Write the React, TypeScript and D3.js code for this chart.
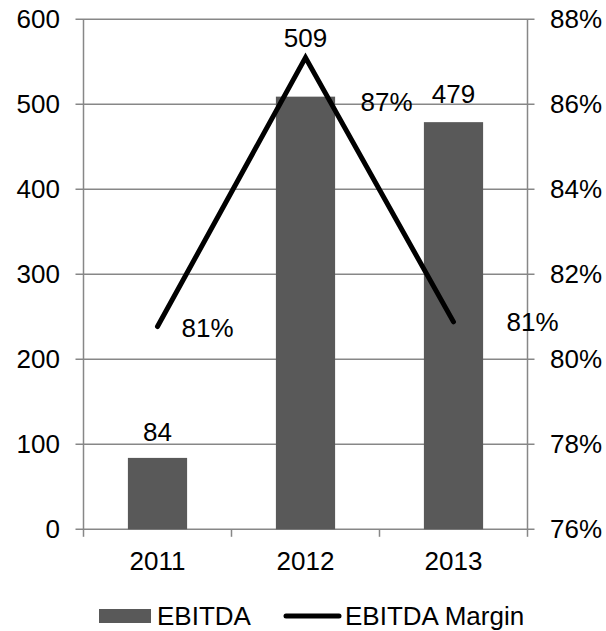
import React from "react";
import * as d3 from "d3";

// EBITDA (bars, left axis) and EBITDA margin (line, right axis)
const years = ["2011", "2012", "2013"];
const ebitda = [84, 509, 479];
const margin = [80.77, 87.1, 80.88];
const marginLabels = ["81%", "87%", "81%"];
const leftTicks = [0, 100, 200, 300, 400, 500, 600];
const rightTicks = [76, 78, 80, 82, 84, 86, 88];

// label nudges relative to their marks
const barLabelNudge = [-17, -50, -19];
const marginLabelNudge: [number, number][] = [
  [24, 10],
  [55, 53],
  [53, 9],
];

const W = 606;
const H = 631;
const plot = { left: 83.5, right: 527.5, top: 19.3, bottom: 529.3 };
const FONT = "'Liberation Sans', Arial, sans-serif";
const FS = 26;
const GRID = "#878787";
const BAR = "#595959";

export default function App() {
  const x = d3
    .scaleBand<string>()
    .domain(years)
    .range([plot.left, plot.right])
    .paddingInner(0.6)
    .paddingOuter(0.3);
  const cat = d3.scaleBand<string>().domain(years).range([plot.left, plot.right]);
  const yL = d3.scaleLinear().domain([0, 600]).range([plot.bottom, plot.top]);
  const yR = d3.scaleLinear().domain([76, 88]).range([plot.bottom, plot.top]);

  const cx = (d: string) => (x(d) as number) + x.bandwidth() / 2;
  const line = d3
    .line<number>()
    .x((_, i) => cx(years[i]))
    .y((v) => yR(v));

  const catEdges = [...years.map((d) => cat(d) as number), plot.right];

  return (
    <svg
      width={W}
      height={H}
      style={{ position: "absolute", left: 0, top: 0, background: "#fff" }}
      fontFamily={FONT}
      fontSize={FS}
    >
      <rect width={W} height={H} fill="#fff" />
      {/* gridlines + left ticks */}
      {leftTicks.map((t) => (
        <g key={"l" + t}>
          <line x1={plot.left - 8} x2={plot.right + 7} y1={yL(t)} y2={yL(t)} stroke={GRID} strokeWidth={1.5} />
          <text x={60} y={yL(t) + 9} textAnchor="end" fill="#000">
            {t}
          </text>
        </g>
      ))}
      {rightTicks.map((t) => (
        <text key={"r" + t} x={550} y={yR(t) + 9} fill="#000">
          {t}%
        </text>
      ))}
      {/* axes */}
      <line x1={plot.left} x2={plot.left} y1={plot.top} y2={plot.bottom} stroke={GRID} strokeWidth={1.5} />
      <line x1={plot.right} x2={plot.right} y1={plot.top} y2={plot.bottom} stroke={GRID} strokeWidth={1.5} />
      {catEdges.map((e, i) => (
        <line key={"c" + i} x1={e} x2={e} y1={plot.bottom} y2={plot.bottom + 7.5} stroke={GRID} strokeWidth={1.5} />
      ))}
      {years.map((d) => (
        <text key={"x" + d} x={cx(d)} y={570} textAnchor="middle" fill="#000">
          {d}
        </text>
      ))}
      {/* bars */}
      {ebitda.map((v, i) => (
        <rect
          key={"b" + i}
          x={x(years[i])}
          y={yL(v)}
          width={x.bandwidth()}
          height={plot.bottom - yL(v)}
          fill={BAR}
        />
      ))}
      {/* margin line */}
      <path d={line(margin) || ""} fill="none" stroke="#000" strokeWidth={5} strokeLinejoin="miter" strokeLinecap="round" />
      {/* bar value labels */}
      {ebitda.map((v, i) => (
        <text key={"bl" + i} x={cx(years[i])} y={yL(v) + barLabelNudge[i]} textAnchor="middle" fill="#000">
          {v}
        </text>
      ))}
      {/* margin labels */}
      {margin.map((v, i) => (
        <text
          key={"ml" + i}
          x={cx(years[i]) + marginLabelNudge[i][0]}
          y={yR(v) + marginLabelNudge[i][1]}
          fill="#000"
        >
          {marginLabels[i]}
        </text>
      ))}
      {/* legend */}
      <rect x={99} y={609} width={52} height={14} fill={BAR} />
      <text x={157} y={624.5} fill="#000">
        EBITDA
      </text>
      <line x1={286} x2={339} y1={616} y2={616} stroke="#000" strokeWidth={5} strokeLinecap="round" />
      <text x={345} y={624.5} fill="#000">
        EBITDA Margin
      </text>
    </svg>
  );
}
